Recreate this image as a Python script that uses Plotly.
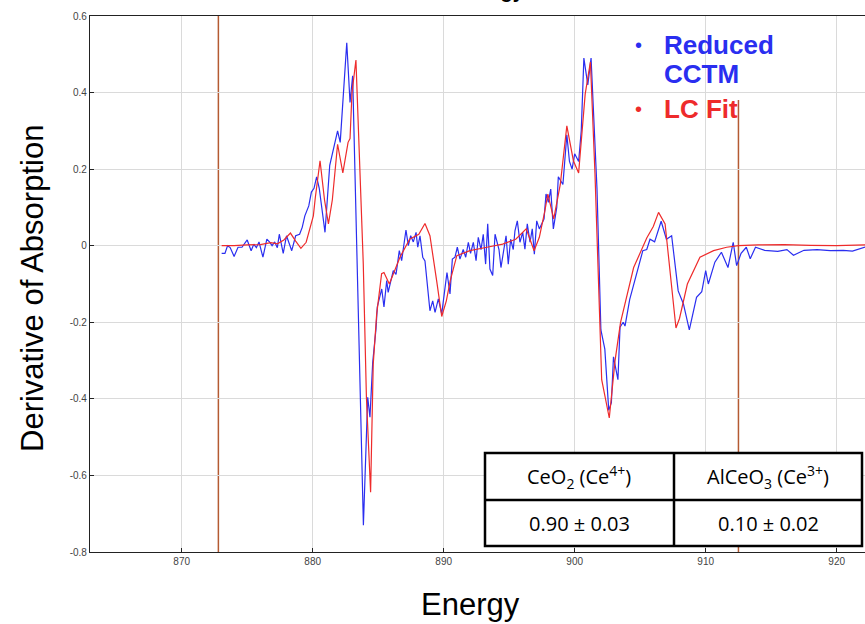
import plotly.graph_objects as go

# ---------------- data ----------------
energy_cctm = [873.05, 873.3, 873.5, 873.7, 874.0, 874.3, 874.6, 875.0, 875.3, 875.5, 875.7, 875.9,
               876.2, 876.5, 876.7, 876.9, 877.1, 877.3, 877.45, 877.75, 878.0, 878.4, 878.7, 879.0,
               879.2, 879.4, 879.7, 879.9, 880.1, 880.3, 880.5, 880.94, 881.3, 881.7, 881.9, 882.1,
               882.6, 882.85, 883.05, 883.87, 884.2, 884.37, 884.58, 884.83, 884.93, 885.27, 885.44,
               885.65, 885.76, 886.15, 886.36, 886.61, 886.79, 887.12, 887.3, 887.48, 887.68, 887.89,
               888.02, 888.19, 888.4, 888.57, 888.83, 888.95, 889.16, 889.34, 889.59, 889.85, 890.1,
               890.25, 890.48, 890.66, 890.86, 891.04, 891.24, 891.49, 891.68, 891.88, 892.05, 892.26,
               892.47, 892.64, 892.85, 893.02, 893.2, 893.36, 893.53, 893.74, 893.92, 894.09, 894.22,
               894.37, 894.55, 894.76, 894.93, 895.11, 895.31, 895.44, 895.62, 895.82, 896.03, 896.2,
               896.38, 896.59, 896.76, 896.92, 897.1, 897.3, 897.48, 897.66, 897.81, 897.99, 898.17,
               898.37, 898.63, 898.75, 899.1, 899.4, 899.6, 899.8, 900.0, 900.3, 900.5, 900.7, 901.0,
               901.25, 901.7, 902.0, 902.3, 902.5, 902.6, 902.8, 902.96, 903.3, 903.46, 903.7, 903.84,
               904.2, 904.6, 904.9, 905.2, 905.5, 905.75, 906.1, 906.6, 907.0, 907.4, 907.9, 908.3,
               908.75, 909.3, 909.7, 910.0, 910.2, 910.7, 911.2, 911.7, 912.1, 912.36, 912.7, 913.1,
               913.4, 913.8, 914.5, 915.5, 916.2, 916.7, 917.5, 918.5, 919.5, 920.5, 921.2, 921.8, 922.2]
deriv_cctm = [-0.02, -0.02, 0.0, -0.005, -0.028, -0.004, -0.004, 0.015, -0.013, 0.004, -0.005, 0.01,
              -0.03, 0.017, 0.01, 0.0, 0.01, -0.005, 0.03, -0.02, 0.026, -0.013, 0.026, 0.03,
              0.048, 0.078, 0.104, 0.14, 0.15, 0.18, 0.15, 0.035, 0.21, 0.27, 0.30, 0.27,
              0.53, 0.374, 0.444, -0.73, -0.396, -0.448, -0.305, -0.218, -0.16, -0.113, -0.16,
              -0.091, -0.122, -0.065, -0.075, -0.013, -0.039, 0.041, 0.0, 0.026, 0.01, 0.035,
              -0.004, 0.026, -0.03, -0.04, -0.126, -0.17, -0.144, -0.174, -0.139, -0.178, -0.11,
              -0.07, -0.126, -0.035, -0.03, -0.004, -0.035, -0.01, -0.03, 0.009, -0.02, 0.009,
              -0.039, 0.022, -0.01, 0.03, -0.048, 0.057, -0.061, -0.078, 0.03, 0.009, -0.01,
              -0.057, -0.02, 0.026, -0.048, 0.017, -0.01, 0.039, 0.065, 0.009, 0.035, -0.009,
              0.057, 0.009, 0.044, -0.022, 0.065, 0.044, 0.057, 0.07, 0.135, 0.113, 0.148,
              0.044, 0.1, 0.18, 0.16, 0.29, 0.22, 0.2, 0.24, 0.22, 0.3, 0.49, 0.42,
              0.49, 0.15, -0.22, -0.27, -0.37, -0.43, -0.41, -0.29, -0.35, -0.213, -0.2, -0.21,
              -0.14, -0.09, -0.05, -0.013, -0.01, 0.017, 0.01, 0.064, 0.017, 0.026, -0.118, -0.152,
              -0.22, -0.135, -0.12, -0.065, -0.1, -0.043, -0.017, -0.057, 0.009, -0.052, -0.02, -0.004,
              -0.034, -0.004, -0.012, -0.015, -0.01, -0.025, -0.012, -0.01, -0.013, -0.012, -0.014, -0.008, -0.003]

energy_fit = [873.05, 874.0, 875.0, 876.0, 876.8, 877.3, 877.8, 878.3, 878.7, 879.1, 879.5, 880.05,
              880.2, 880.56, 880.9, 881.2, 881.5, 881.9, 882.3, 882.7, 882.85, 883.0, 883.3, 883.6,
              883.86, 884.1, 884.42, 884.62, 884.88, 885.26, 885.44, 885.85, 886.66, 887.4, 888.1,
              888.57, 888.95, 889.46, 889.85, 890.2, 890.5, 891.0, 892.0, 893.3, 894.5, 895.5,
              896.3, 896.9, 897.3, 897.7, 897.95, 898.4, 898.9, 899.4, 899.9, 900.3, 900.8, 901.2,
              901.55, 902.06, 902.64, 903.08, 903.5, 904.5, 905.5, 906.0, 906.4, 906.9, 907.3,
              907.73, 908.0, 908.6, 909.56, 910.6, 911.6, 912.5, 914.0, 916.0, 918.0, 920.0, 922.2]
deriv_fit = [0.0, 0.0, 0.002, 0.003, 0.008, 0.005, 0.015, 0.033, 0.012, -0.007, 0.009, 0.078,
             0.126, 0.222, 0.12, 0.057, 0.12, 0.265, 0.19, 0.27, 0.28, 0.4, 0.485, 0.21,
             -0.047, -0.396, -0.644, -0.31, -0.18, -0.073, -0.07, -0.1, -0.03, 0.017, 0.03,
             0.058, 0.026, -0.091, -0.185, -0.144, -0.091, -0.026, -0.013, -0.004, 0.004, 0.017,
             0.044, -0.013, 0.022, 0.087, 0.135, 0.07, 0.16, 0.313, 0.222, 0.19, 0.396, 0.48,
             0.187, -0.35, -0.45, -0.3, -0.2, -0.057, 0.02, 0.05, 0.087, 0.057, -0.08,
             -0.215, -0.19, -0.1, -0.03, -0.013, -0.004, 0.0, 0.002, 0.003, 0.001, 0.0, 0.002]

boundary_energies = [872.8, 912.5]
x_ticks = [870, 880, 890, 900, 910, 920]
y_ticks = [-0.8, -0.6, -0.4, -0.2, 0, 0.2, 0.4, 0.6]
y_tick_text = ["-0.8", "-0.6", "-0.4", "-0.2", "0", "0.2", "0.4", "0.6"]
table_header = ["CeO<sub>2</sub> (Ce<sup>4+</sup>)", "AlCeO<sub>3</sub> (Ce<sup>3+</sup>)"]
table_values = ["0.90 ± 0.03", "0.10 ± 0.02"]
legend_names = ["Reduced CCTM", "LC Fit"]

# ---------------- layout helpers (pixel -> paper) ----------------
W, H = 865, 624
ML, MR, MT, MB = 90, 0, 16, 72
PW, PH = W - ML - MR, H - MT - MB


def px(x):
    return (x - ML) / PW


def py(y):
    return (H - MB - y) / PH


BLUE = "#2a2ef0"
RED = "#ee2b2b"
BROWN = "#b45a32"

fig = go.Figure()
fig.add_trace(go.Scatter(x=energy_cctm, y=deriv_cctm, mode="lines", name=legend_names[0],
                         line=dict(color=BLUE, width=1.2)))
fig.add_trace(go.Scatter(x=energy_fit, y=deriv_fit, mode="lines", name=legend_names[1],
                         line=dict(color=RED, width=1.2)))

shapes = []
for e in boundary_energies:
    shapes.append(dict(type="line", xref="x", yref="paper", x0=e, x1=e, y0=0, y1=1,
                       line=dict(color=BROWN, width=1.5), layer="between"))
# legend white backdrop
shapes.append(dict(type="rect", xref="paper", yref="paper", x0=px(615), x1=px(858), y0=py(100), y1=1.0,
                   fillcolor="white", line=dict(width=0), layer="between"))
# table
tl, tr, tm = px(485), px(862), px(674)
tt, tb, tmid = py(453), py(546), py(500)
shapes.append(dict(type="rect", xref="paper", yref="paper", x0=tl, x1=tr, y0=tb, y1=tt,
                   fillcolor="white", line=dict(color="black", width=2.5), layer="above"))
shapes.append(dict(type="line", xref="paper", yref="paper", x0=tm, x1=tm, y0=tb, y1=tt,
                   line=dict(color="black", width=2.5), layer="above"))
shapes.append(dict(type="line", xref="paper", yref="paper", x0=tl, x1=tr, y0=tmid, y1=tmid,
                   line=dict(color="black", width=2.5), layer="above"))

annotations = []
tfont = dict(family="Open Sans, Liberation Sans, sans-serif", size=20, color="black")
for i, cx in enumerate([579, 768]):
    annotations.append(dict(xref="paper", yref="paper", x=px(cx), y=py(477), text=table_header[i],
                            showarrow=False, font=tfont, xanchor="center", yanchor="middle"))
    annotations.append(dict(xref="paper", yref="paper", x=px(cx), y=py(523), text=table_values[i],
                            showarrow=False, font=tfont, xanchor="center", yanchor="middle"))

# legend text
lfont = "Liberation Sans, Arial, sans-serif"
legend_lines = [("Reduced", 45, BLUE, True), ("CCTM", 74, BLUE, False), ("LC Fit", 109, RED, True)]
for txt, cy, col, bullet in legend_lines:
    annotations.append(dict(xref="paper", yref="paper", x=px(662), y=py(cy), text="<b>" + txt + "</b>",
                            showarrow=False, xanchor="left", yanchor="middle",
                            font=dict(family=lfont, size=26, color=col)))
    if bullet:
        annotations.append(dict(xref="paper", yref="paper", x=px(638), y=py(cy), text="•",
                                showarrow=False, xanchor="center", yanchor="middle",
                                font=dict(family=lfont, size=20, color=col)))

# axis titles
annotations.append(dict(xref="paper", yref="paper", x=px(33), y=py(289), text="Derivative of Absorption",
                        textangle=-90, showarrow=False, xanchor="center", yanchor="middle",
                        font=dict(family=lfont, size=31, color="black")))
annotations.append(dict(xref="paper", yref="paper", x=px(470), y=py(604), text="Energy",
                        showarrow=False, xanchor="center", yanchor="middle",
                        font=dict(family=lfont, size=31, color="black")))
# truncated top title (only descenders peek in at the top edge)
annotations.append(dict(xref="paper", yref="paper", x=px(490), y=py(4), text="<b>Energy</b>",
                        showarrow=False, xanchor="center", yanchor="bottom",
                        font=dict(family=lfont, size=20, color="black")))

fig.update_layout(
    width=W, height=H, margin=dict(l=ML, r=MR, t=MT, b=MB, pad=0),
    paper_bgcolor="white", plot_bgcolor="white", showlegend=False,
    shapes=shapes, annotations=annotations,
    font=dict(family=lfont, color="#333"),
)
fig.update_xaxes(range=[863, 863 + PW / 13.1], tickvals=x_ticks, showgrid=True, gridcolor="#dadada",
                 gridwidth=1, showline=True, linecolor="#222", linewidth=1.2, mirror=True,
                 ticks="inside", ticklen=4, tickcolor="#222", zeroline=False,
                 tickfont=dict(size=10, color="#444"))
fig.update_yaxes(range=[-0.8, 0.6], tickvals=y_ticks, ticktext=y_tick_text, showgrid=True,
                 gridcolor="#dadada", gridwidth=1, showline=True, linecolor="#222", linewidth=1.2,
                 ticks="inside", ticklen=4, tickcolor="#222", zeroline=False,
                 tickfont=dict(size=10, color="#444"))

fig.write_html("out.html", config={"displayModeBar": False},
               post_script="document.body.style.margin='0';document.body.style.overflow='hidden';")
